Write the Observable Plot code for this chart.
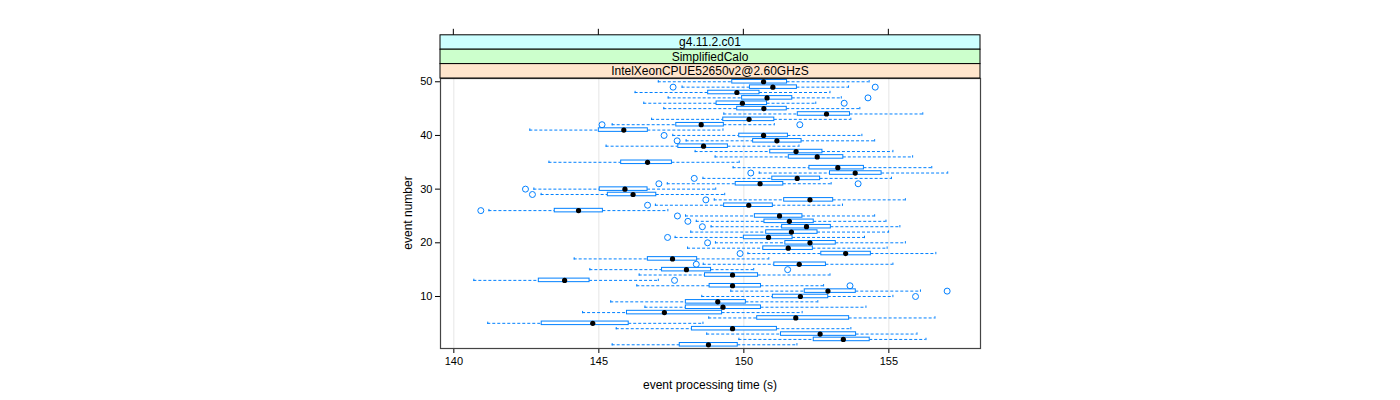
<!DOCTYPE html>
<html><head><meta charset="utf-8">
<script src="https://cdn.jsdelivr.net/npm/d3@7"></script>
<script src="https://cdn.jsdelivr.net/npm/@observablehq/plot@0.6"></script>
<style>body{margin:0;background:#fff} svg{display:block}</style>
</head><body><div id="chart"></div>
<script>
const events = [1,2,3,4,5,6,7,8,9,10,11,12,13,14,15,16,17,18,19,20,21,22,23,24,25,26,27,28,29,30,31,32,33,34,35,36,37,38,39,40,41,42,43,44,45,46,47,48,49,50];
const lower = [145.46,149.83,148.72,145.60,141.17,148.79,144.44,146.59,145.41,148.55,149.55,146.31,140.69,146.39,144.69,148.60,144.15,150.14,148.06,149.02,147.63,148.17,148.87,148.36,147.99,141.21,146.95,148.98,143.01,142.76,147.36,148.59,150.53,149.63,143.28,149.01,148.32,145.25,148.01,147.55,142.62,145.46,146.82,149.31,147.24,146.55,147.39,146.25,147.87,147.05];
const q1 = [147.79,152.41,151.28,148.21,143.03,150.46,145.97,148.00,148.00,151.00,152.10,148.82,142.93,148.66,147.18,151.05,146.69,152.67,150.67,151.43,150.00,150.77,151.32,150.71,150.38,143.48,149.32,151.39,145.31,145.03,149.72,150.98,152.97,152.26,145.77,151.55,150.91,147.74,150.32,149.84,145.00,147.67,149.29,151.86,149.77,149.06,149.94,148.77,150.21,149.60];
const median = [148.78,153.43,152.63,149.61,144.79,151.79,147.26,149.28,149.10,151.95,152.90,149.61,143.82,149.61,148.02,151.91,147.54,153.51,151.53,152.28,150.85,151.64,152.16,151.57,151.23,144.30,150.17,152.28,146.18,145.90,150.56,151.84,153.84,153.24,146.68,152.53,151.80,148.61,151.14,150.68,145.86,148.53,150.18,152.85,150.69,149.95,150.80,149.76,151.00,150.68];
const q3 = [149.79,154.34,153.87,151.14,146.03,153.63,149.25,150.59,150.07,152.91,153.86,150.59,144.68,150.49,148.87,152.83,148.39,154.38,152.38,153.17,151.68,152.54,153.00,152.41,152.02,145.14,151.00,153.08,146.98,146.68,151.36,152.63,154.75,154.14,147.52,153.43,152.71,149.45,151.99,151.52,146.69,149.31,151.05,153.66,151.48,150.80,151.67,150.54,151.83,151.49];
const upper = [151.83,156.28,155.97,153.69,148.59,156.59,152.01,154.21,152.55,155.14,156.09,152.75,147.05,152.97,150.34,155.14,150.86,156.62,154.94,155.57,154.16,154.99,155.38,154.90,154.51,147.38,153.40,155.57,149.34,149.03,153.01,155.09,157.03,156.48,149.84,155.82,155.14,151.90,154.51,154.07,149.28,151.05,153.69,156.17,154.00,152.48,153.36,152.97,153.61,154.32];
const outlierEvent = [49,49,47,46,42,42,40,39,33,32,31,31,30,29,28,27,26,25,24,23,21,20,18,16,15,13,12,11,10];
const outlierValue = [147.56,154.53,154.28,153.46,145.11,151.93,147.25,147.70,150.24,148.29,147.07,153.94,142.47,142.71,148.69,146.68,140.93,147.71,148.07,148.57,147.37,148.75,149.87,148.36,151.51,147.61,153.66,157.01,155.92];
const xTicks = [140,145,150,155];
const yTicks = [10,20,30,40,50];
const strips = ["g4.11.2.c01","SimplifiedCalo","IntelXeonCPUE52650v2@2.60GHzS"];
const stripColors = ["#CCFFFF","#CCFFCC","#FFE5CC"];

const boxes = events.map((e,i)=>({event:e, lo:lower[i], q1:q1[i], med:median[i], q3:q3[i], hi:upper[i]}));
const outliers = outlierEvent.map((e,i)=>({event:e, value:outlierValue[i]}));

const blue = "#0080ff";
const font = "'Liberation Sans', Arial, sans-serif";
const W = 1400, H = 400, mL = 440, mR = 420, mT = 78, mB = 52;
const hw = 0.33;

const chart = Plot.plot({
  width: W, height: H,
  marginLeft: mL, marginRight: mR, marginTop: mT, marginBottom: mB,
  style: {fontFamily: font, fontSize: "11px", color: "black", background: "white"},
  x: {domain: [139.54, 158.16]},
  y: {domain: [0.31, 50.61]},
  marks: [
    Plot.ruleX(xTicks, {stroke: "#e6e6e6", strokeWidth: 1}),
    Plot.ruleY(boxes, {y: "event", x1: "lo", x2: "q1", stroke: blue, strokeDasharray: "3,2", strokeWidth: 1}),
    Plot.ruleY(boxes, {y: "event", x1: "q3", x2: "hi", stroke: blue, strokeDasharray: "3,2", strokeWidth: 1}),
    Plot.ruleX(boxes, {x: "lo", y1: d => d.event - 0.22, y2: d => d.event + 0.22, stroke: blue}),
    Plot.ruleX(boxes, {x: "hi", y1: d => d.event - 0.22, y2: d => d.event + 0.22, stroke: blue}),
    Plot.rect(boxes, {x1: "q1", x2: "q3", y1: d => d.event - hw, y2: d => d.event + hw, fill: "white", stroke: blue, strokeWidth: 1}),
    Plot.dot(boxes, {x: "med", y: "event", r: 2.6, fill: "black", stroke: "none"}),
    Plot.dot(outliers, {x: "value", y: "event", r: 3, fill: "none", stroke: blue, strokeWidth: 1}),
    Plot.axisX({ticks: xTicks, tickSize: 5, tickPadding: 4, label: null, fontSize: 11}),
    Plot.axisY({ticks: yTicks, tickSize: 5, tickPadding: 3, label: null, fontSize: 11}),
    Plot.frame({stroke: "#444", strokeWidth: 1.2})
  ]
});

const svg = d3.select(chart);
const xs = chart.scale("x");
const stripH = 14.4;
const top0 = mT - stripH * strips.length;
strips.forEach((s, i) => {
  const y0 = top0 + i * stripH;
  svg.append("rect").attr("x", mL).attr("y", y0).attr("width", W - mL - mR).attr("height", stripH)
    .attr("fill", stripColors[i]).attr("stroke", "black").attr("stroke-width", 1);
  svg.append("text").attr("x", (mL + W - mR) / 2).attr("y", y0 + stripH / 2).attr("dy", "0.36em")
    .attr("text-anchor", "middle").attr("font-family", font).attr("font-size", 12).attr("fill", "black").text(s);
});
xTicks.forEach(t => {
  const px = xs.apply(t);
  svg.append("line").attr("x1", px).attr("x2", px).attr("y1", top0 - 6).attr("y2", top0).attr("stroke", "black");
});
svg.append("text").attr("x", (mL + W - mR) / 2).attr("y", 389).attr("text-anchor", "middle")
  .attr("font-family", font).attr("font-size", 12).attr("fill", "black").text("event processing time (s)");
svg.append("text").attr("transform", `translate(412,${(mT + H - mB) / 2}) rotate(-90)`).attr("text-anchor", "middle")
  .attr("font-family", font).attr("font-size", 12).attr("fill", "black").text("event number");

document.getElementById("chart").appendChild(chart);
</script>
</body></html>
